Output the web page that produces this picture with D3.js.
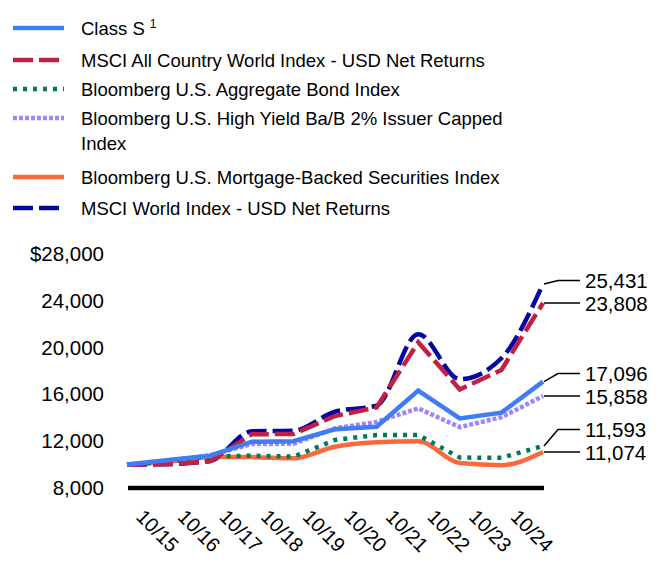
<!DOCTYPE html>
<html>
<head>
<meta charset="utf-8">
<script src="https://cdn.jsdelivr.net/npm/d3@7"></script>
<style>
  html, body { margin: 0; padding: 0; background: #fff; }
  svg { display: block; font-family: "Liberation Sans", Arial, sans-serif; }
</style>
</head>
<body>
<svg id="chart" width="672" height="588"></svg>
<script>
// ---- data ----
const periods = [0, 1, 2, 3, 4, 5, 6, 7, 8, 9, 10];
const tickLabels = ["10/15", "10/16", "10/17", "10/18", "10/19", "10/20", "10/21", "10/22", "10/23", "10/24"];
const yTicks = [8000, 12000, 16000, 20000, 24000, 28000];

const seriesNames = [
  "Class S",
  "MSCI All Country World Index - USD Net Returns",
  "Bloomberg U.S. Aggregate Bond Index",
  "Bloomberg U.S. High Yield Ba/B 2% Issuer Capped Index",
  "Bloomberg U.S. Mortgage-Backed Securities Index",
  "MSCI World Index - USD Net Returns"
];
const classS = [10000, 10390, 10760, 11960, 12000, 13020, 13240, 16330, 13950, 14440, 17096];
const acwi   = [10000, 10020, 10280, 12600, 12610, 14150, 14890, 20450, 16420, 18090, 23808];
const agg    = [10000, 10250, 10700, 10760, 10680, 12100, 12530, 12530, 10600, 10580, 11593];
const hy     = [10000, 10350, 10800, 11760, 11780, 13100, 13650, 14810, 13200, 14050, 15858];
const mbs    = [10000, 10250, 10650, 10640, 10540, 11530, 11900, 11990, 10130, 9950, 11074];
const world  = [10000, 10050, 10330, 12850, 12900, 14520, 15040, 21150, 17300, 19090, 25431];

// ---- styles ----
const styles = [
  { color: "#3f7cf6", dash: null,   curve: d3.curveLinear },
  { color: "#c21f45", dash: "20,6", curve: d3.curveLinear },
  { color: "#00795a", dash: "4,6",  curve: d3.curveLinear },
  { color: "#9c86fb", dash: "4,2",  curve: d3.curveLinear },
  { color: "#fb683a", dash: null,   curve: d3.curveMonotoneX },
  { color: "#0508a0", dash: "20,6", curve: d3.curveMonotoneX }
];
const allValues = [classS, acwi, agg, hy, mbs, world];
const series = seriesNames.map((name, i) => ({ name, values: allValues[i], style: styles[i] }));

const svg = d3.select("#chart");

// ---- scales ----
const x = d3.scaleLinear().domain([0, 10]).range([127, 543]);
const y = d3.scaleLinear().domain([8000, 28000]).range([488, 254]);

// ---- legend ----
const legendRows = [
  { i: 0, y: 28, lines: ["Class S"] , sup: "1"},
  { i: 1, y: 60, lines: ["MSCI All Country World Index - USD Net Returns"] },
  { i: 2, y: 89, lines: ["Bloomberg U.S. Aggregate Bond Index"] },
  { i: 3, y: 118, lines: ["Bloomberg U.S. High Yield Ba/B 2% Issuer Capped", "Index"] },
  { i: 4, y: 177, lines: ["Bloomberg U.S. Mortgage-Backed Securities Index"] },
  { i: 5, y: 208, lines: ["MSCI World Index - USD Net Returns"] }
];
const lg = svg.append("g");
legendRows.forEach(r => {
  const st = series[r.i].style;
  lg.append("line")
    .attr("x1", 13).attr("x2", 64).attr("y1", r.y).attr("y2", r.y)
    .attr("stroke", st.color).attr("stroke-width", 4.5)
    .attr("stroke-dasharray", st.dash);
  r.lines.forEach((ln, j) => {
    const t = lg.append("text")
      .attr("x", 81).attr("y", r.y + 6.5 + j * 25)
      .attr("font-size", 18.5).attr("fill", "#000")
      .text(ln);
    if (r.sup && j === 0) {
      t.append("tspan").attr("font-size", 12).attr("dx", 5).attr("dy", -7).text(r.sup);
    }
  });
});

// ---- y axis labels ----
svg.append("g").selectAll("text").data(yTicks).join("text")
  .attr("x", 104).attr("y", d => y(d) + 7)
  .attr("text-anchor", "end").attr("font-size", 20.5).attr("fill", "#000")
  .text(d => (d === 28000 ? "$" : "") + d3.format(",")(d));

// ---- baseline axis ----
svg.append("line")
  .attr("x1", x(0) + 1).attr("x2", x(10) + 1)
  .attr("y1", y(8000)).attr("y2", y(8000))
  .attr("stroke", "#000").attr("stroke-width", 4.5);

// ---- x labels ----
svg.append("g").selectAll("text").data(tickLabels).join("text")
  .attr("transform", (d, i) => `translate(${x(i) + 8},518) rotate(45)`)
  .attr("font-size", 20).attr("fill", "#000")
  .text(d => d);

// ---- lines ----
const lineGen = c => d3.line().x((d, i) => x(periods[i])).y(d => y(d)).curve(c);
const drawOrder = series.slice().reverse();
svg.append("g").selectAll("path").data(drawOrder).join("path")
  .attr("d", s => lineGen(s.style.curve)(s.values))
  .attr("fill", "none")
  .attr("stroke", s => s.style.color)
  .attr("stroke-width", 4.5)
  .attr("stroke-dasharray", s => s.style.dash);

// ---- end labels with connectors ----
const ends = series.map(s => ({ v: s.values[s.values.length - 1], py: y(s.values[s.values.length - 1]) }));
ends.sort((a, b) => b.py - a.py); // bottom first
let prev = null;
ends.forEach(e => {
  e.ly = e.py;
  if (prev && prev.ly - e.ly < 22.5) e.ly = prev.ly - 22.5;
  prev = e;
});
const eg = svg.append("g");
ends.forEach(e => {
  const x0 = x(10) + 1;
  const elbowX = Math.abs(e.ly - e.py) > 1 ? x0 + 14 : x0 + 10;
  eg.append("path")
    .attr("d", `M${x0},${e.py}L${elbowX},${e.ly}L580,${e.ly}`)
    .attr("fill", "none").attr("stroke", "#000").attr("stroke-width", 1.5);
  eg.append("text")
    .attr("x", 585).attr("y", e.ly + 7.5)
    .attr("font-size", 20.5).attr("fill", "#000")
    .text(d3.format(",")(e.v));
});
</script>
</body>
</html>
